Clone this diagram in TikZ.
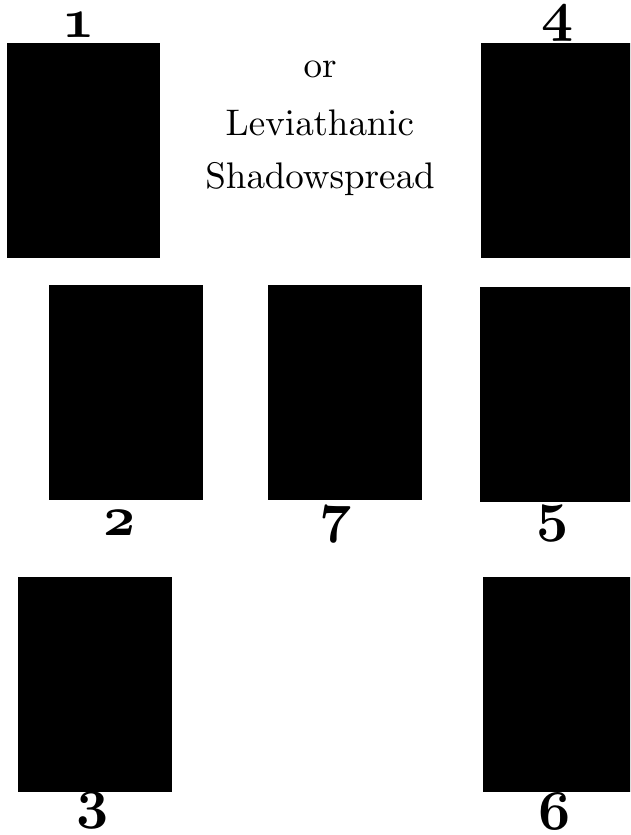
\documentclass[tikz,border=0pt]{standalone}
\usepackage{tikz}
\usetikzlibrary{positioning}
% scaled 10pt designs: heavier strokes than the display sizes
\font\numfont=cmmib10 at 56pt
\font\titlefont=cmr10 at 37pt
\tikzset{
  card/.style={rectangle,fill=black,inner sep=0pt,
               minimum width=154pt,minimum height=215pt},
  cardnum/.style={anchor=base,inner sep=0pt,font=\numfont},
  titleline/.style={anchor=base,inner sep=0pt,font=\titlefont},
}
\begin{document}
\begin{tikzpicture}[x=1pt,y=-1pt]
  \clip (0,0) rectangle (630,835);
  \fill[white] (0,0) rectangle (630,835);

  % cards of the spread
  \node[card,minimum width=153pt] (c1) at (83.5,150.5) {};
  \node[card,minimum width=153pt] (c4) at (557.5,150.5) {};
  \node[card] (c2) at (126,392.5) {};
  \node[card] (c7) at (345,392.5) {};
  \node[card] (c5) at (557,394.5) {};
  \node[card] (c3) at (95,684.5) {};
  \node[card] (c6) at (560,684.5) {};

  % card numbers (old-style figures)
  \node[cardnum] (n1) at (79,37)   {1};
  \node[cardnum] (n4) at (558,30)  {4};
  \node[cardnum] (n2) at (120,535) {2};
  \node[cardnum] (n7) at (336,531) {7};
  \node[cardnum] (n5) at (553,530) {5};
  \node[cardnum] (n3) at (93,817)  {3};
  \node[cardnum] (n6) at (555,829) {6};

  % title
  \node[titleline] (t1) at (320,77)  {or};
  \node[titleline] (t2) at (320,135) {Leviathanic};
  \node[titleline] (t3) at (320,188) {Shadowspread};
\end{tikzpicture}
\end{document}
